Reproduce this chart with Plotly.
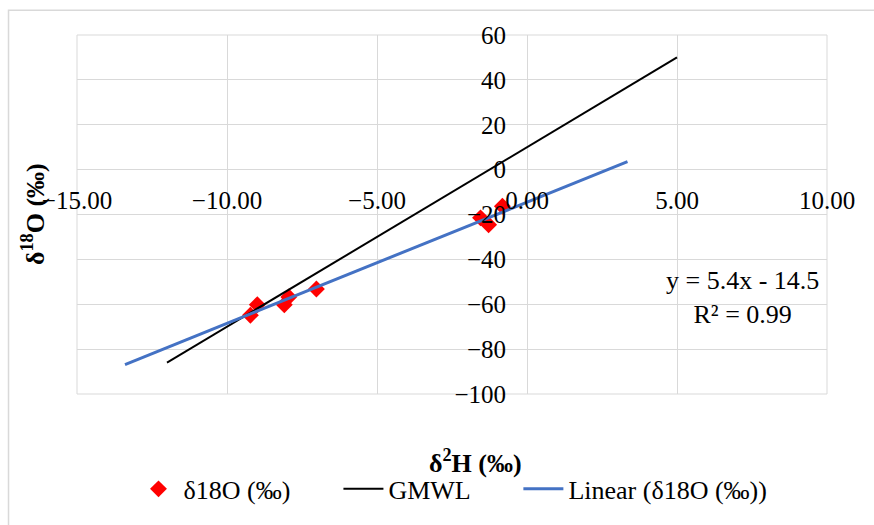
import plotly.graph_objects as go

# ---- data ----
d2H = [-9.22, -8.99, -8.09, -7.94, -7.02, -1.55, -1.28, -0.82]
d18O = [-64.9, -60.2, -60.2, -56.8, -53.2, -21.5, -24.6, -16.3]

gmwl_x = [-12, 5]
gmwl_slope, gmwl_intercept = 8, 10

trend_x = [-13.4, 3.35]
trend_slope, trend_intercept = 5.4, -14.5

x_ticks = [-15, -10, -5, 0, 5, 10]
y_ticks = [-100, -80, -60, -40, -20, 0, 20, 40, 60]

FONT = "Liberation Serif"
FS = 25
FS_BIG = 26

gmwl_y = [gmwl_slope * v + gmwl_intercept for v in gmwl_x]
trend_y = [trend_slope * v + trend_intercept for v in trend_x]

fig = go.Figure()
fig.add_trace(go.Scatter(x=d2H, y=d18O, mode="markers", name="δ18O (‰)", legend="legend",
                         marker=dict(symbol="diamond", size=13, color="#ff0000")))
fig.add_trace(go.Scatter(x=gmwl_x, y=gmwl_y, mode="lines", name="GMWL", legend="legend2",
                         line=dict(color="black", width=2)))
fig.add_trace(go.Scatter(x=trend_x, y=trend_y, mode="lines", name="Linear (δ18O (‰))",
                         legend="legend3", line=dict(color="#4472C4", width=3)))

W, H = 874, 525
ml, mr, mt, mb = 76.5, 47.3, 35, 127
pw, ph = W - ml - mr, H - mt - mb

xr = [x_ticks[0], x_ticks[-1]]
yr = [y_ticks[0], y_ticks[-1]]


def leg(px):
    return dict(orientation="h", x=(px - ml) / pw, xanchor="left",
                y=(ph + mt - 494) / ph, yanchor="middle",
                font=dict(family=FONT, size=FS_BIG, color="black"),
                bgcolor="rgba(0,0,0,0)", itemwidth=40)


fig.update_layout(
    width=W, height=H,
    margin=dict(l=ml, r=mr, t=mt, b=mb, pad=0),
    paper_bgcolor="white", plot_bgcolor="white",
    font=dict(family=FONT, size=FS, color="black"),
    showlegend=True,
    legend=leg(133), legend2=leg(338), legend3=leg(518),
    xaxis=dict(range=xr, tickvals=x_ticks, tickformat=".2f", showgrid=True,
               gridcolor="#d9d9d9", gridwidth=1, zeroline=False, showline=False,
               anchor="free", position=(0 - yr[0]) / (yr[1] - yr[0]),
               ticks="", ticklabelstandoff=13,
               tickfont=dict(family=FONT, size=FS, color="black")),
    yaxis=dict(range=yr, tickvals=y_ticks, showgrid=True, gridcolor="#d9d9d9",
               gridwidth=1, zeroline=False, showline=False,
               anchor="free", position=(0 - xr[0]) / (xr[1] - xr[0]),
               ticks="", ticklabelstandoff=21,
               tickfont=dict(family=FONT, size=FS, color="black")),
)

# plot-area frame (edge gridlines)
fig.add_shape(type="rect", xref="x domain", yref="y domain", x0=0, x1=1, y0=0, y1=1,
              line=dict(color="#d9d9d9", width=1), fillcolor="rgba(0,0,0,0)", layer="below")

# chart outer border
fig.add_shape(type="rect", xref="paper", yref="paper",
              x0=(8 - ml) / pw, x1=(W + 20 - ml) / pw,
              y0=-(H + 20 - mt - ph) / ph, y1=(ph + mt - 10) / ph,
              line=dict(color="#d9d9d9", width=1.5), fillcolor="rgba(0,0,0,0)", layer="below")

# axis titles
fig.add_annotation(text="<b>δ<sup>2</sup>H (‰)</b>", xref="paper", yref="paper",
                   x=(475 - ml) / pw, y=(ph + mt - 466) / ph, showarrow=False,
                   xanchor="center", yanchor="middle", font=dict(family=FONT, size=FS_BIG))
fig.add_annotation(text="<b>δ<sup>18</sup>O (‰)</b>", xref="paper", yref="paper",
                   x=(33 - ml) / pw, y=0.5, showarrow=False, textangle=-90,
                   xanchor="center", yanchor="middle", font=dict(family=FONT, size=FS_BIG))

# trendline equation
fig.add_annotation(text=f"y = {trend_slope}x - {abs(trend_intercept)}<br>R² = 0.99",
                   xref="paper", yref="paper", x=(742 - ml) / pw, y=(ph + mt - 300) / ph,
                   showarrow=False, xanchor="center", yanchor="middle", align="center",
                   font=dict(family=FONT, size=FS_BIG))

fig.write_html("out.html")
